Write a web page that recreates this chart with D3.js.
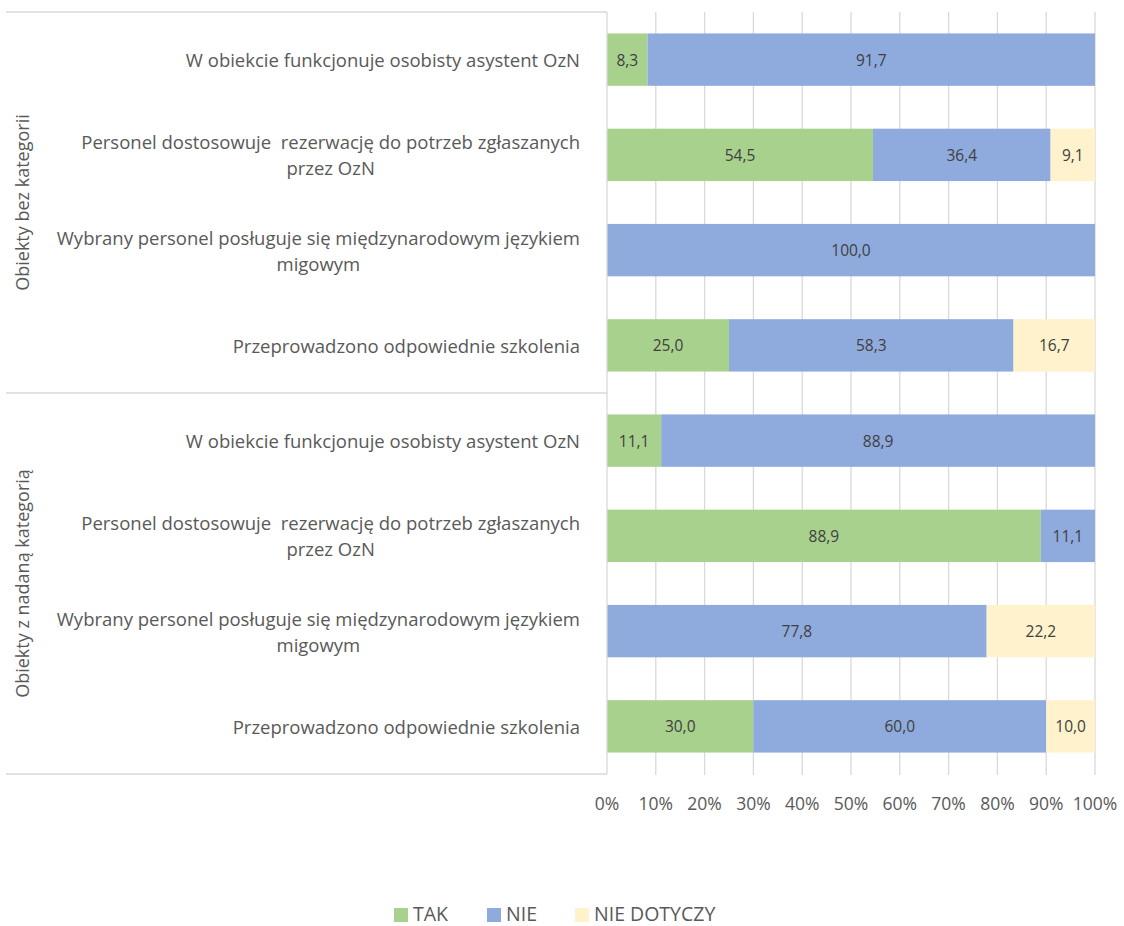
<!DOCTYPE html>
<html><head><meta charset="utf-8">
<script src="https://cdn.jsdelivr.net/npm/d3@7"></script>
<style>body{margin:0;background:#fff;} svg{display:block;font-family:"Open Sans",sans-serif;} text{white-space:pre;}</style>
</head><body>
<svg id="c" width="1124" height="926"></svg>
<script>
const groups = ["Obiekty bez kategorii", "Obiekty z nadaną kategorią"];
const categories = [
  ["W obiekcie funkcjonuje osobisty asystent OzN"],
  ["Personel dostosowuje  rezerwację do potrzeb zgłaszanych", "przez OzN"],
  ["Wybrany personel posługuje się międzynarodowym językiem", "migowym"],
  ["Przeprowadzono odpowiednie szkolenia"]
];
const seriesNames = ["TAK", "NIE", "NIE DOTYCZY"];
const colors = ["#A9D18E", "#8FAADC", "#FFF2CC"];
const tak = [8.3, 54.5, 0, 25.0, 11.1, 88.9, 0, 30.0];
const nie = [91.7, 36.4, 100.0, 58.3, 88.9, 11.1, 77.8, 60.0];
const nieDot = [0, 9.1, 0, 16.7, 0, 0, 22.2, 10.0];
const xTicks = [0,10,20,30,40,50,60,70,80,90,100];

(function(){
const svg = d3.select("#c");
const pL = 607, pR = 1095, pT = 12, pB = 774;
const rows = [];
groups.forEach((g, gi) => categories.forEach((c, ci) => rows.push({id: gi*4+ci, group: gi, label: c})));
const x = d3.scaleLinear().domain([0,100]).range([pL, pR]);
const y = d3.scaleBand().domain(rows.map(r => r.id)).range([pT, pB]).paddingInner(0.45).paddingOuter(0.225);

const data = rows.map((r,i) => ({id: r.id, TAK: tak[i], NIE: nie[i], "NIE DOTYCZY": nieDot[i]}));
const stack = d3.stack().keys(seriesNames)(data);

// gridlines
svg.append("g").selectAll("line").data(xTicks.slice(1)).join("line")
  .attr("x1", d => x(d)).attr("x2", d => x(d)).attr("y1", pT).attr("y2", pB + 1)
  .attr("stroke", "#d9d9d9").attr("stroke-width", 1.3);

// bars
const txt = "#404040";
stack.forEach((s, si) => {
  const g = svg.append("g");
  g.selectAll("rect").data(s).join("rect")
    .attr("x", d => x(d[0])).attr("width", d => x(d[1]) - x(d[0]))
    .attr("y", d => y(d.data.id)).attr("height", y.bandwidth())
    .attr("fill", colors[si]);
  g.selectAll("text").data(s.filter(d => d[1] - d[0] > 0)).join("text")
    .attr("x", d => (x(d[0]) + x(d[1])) / 2).attr("y", d => y(d.data.id) + y.bandwidth()/2)
    .attr("text-anchor", "middle").attr("dominant-baseline", "central")
    .attr("font-size", 15.5).attr("fill", txt)
    .text(d => d3.format(".1f")(d[1]-d[0]).replace(".", ","));
});

// axis frame lines
const lc = "#d9d9d9";
svg.append("line").attr("x1", pL).attr("x2", pL).attr("y1", pT).attr("y2", pB).attr("stroke", lc).attr("stroke-width", 1.3);
[pT, (pT+pB)/2, pB].forEach(yy => svg.append("line").attr("x1", 6).attr("x2", pL).attr("y1", yy).attr("y2", yy).attr("stroke", lc).attr("stroke-width", 1.3));

// category labels
const lab = "#595959";
const fs = 18.5;
rows.forEach(r => {
  const cy = y(r.id) + y.bandwidth()/2;
  if (r.label.length === 1) {
    svg.append("text").attr("x", 580).attr("y", cy).attr("text-anchor", "end").attr("dominant-baseline", "central")
      .attr("font-size", fs).attr("fill", lab).text(r.label[0]);
  } else {
    const g = svg.append("g");
    const ts = r.label.map((l, i) => g.append("text").attr("y", cy + (i - (r.label.length-1)/2) * 26)
      .attr("text-anchor", "middle").attr("dominant-baseline", "central").attr("font-size", fs).attr("fill", lab).text(l));
    const w = d3.max(ts, t => t.node().getComputedTextLength());
    ts.forEach(t => t.attr("x", 580 - w/2));
  }
});

// group labels
groups.forEach((g, gi) => {
  const cy = pT + (pB-pT)/4 * (2*gi + 1);
  svg.append("text").attr("transform", `translate(22,${cy}) rotate(-90)`)
    .attr("text-anchor", "middle").attr("dominant-baseline", "central")
    .attr("font-size", 18).attr("fill", lab).text(g);
});

// x tick labels
svg.append("g").selectAll("text").data(xTicks).join("text")
  .attr("x", d => x(d)).attr("y", 803).attr("text-anchor", "middle").attr("dominant-baseline", "central")
  .attr("font-size", 17.5).attr("fill", lab).text(d => d + "%");

// legend
const legX = [394, 487, 575];
seriesNames.forEach((n, i) => {
  svg.append("rect").attr("x", legX[i]).attr("y", 908).attr("width", 14).attr("height", 14).attr("fill", colors[i]);
  svg.append("text").attr("x", legX[i] + 19).attr("y", 920.5).attr("font-size", 19.5).attr("fill", lab).text(n);
});
})();
</script>
</body></html>
